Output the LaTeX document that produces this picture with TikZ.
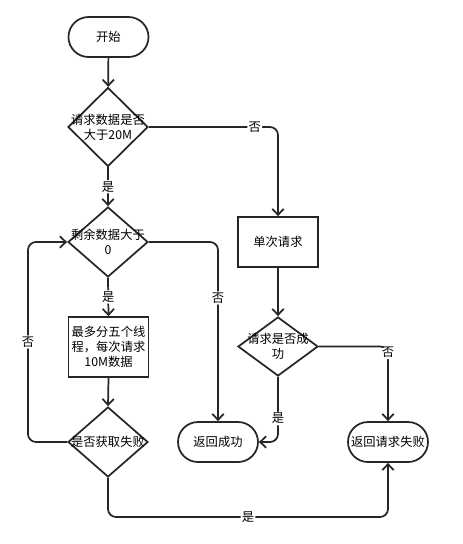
\documentclass[tikz,border=0pt]{standalone}
\usepackage{fontspec}
\setmainfont{Noto Sans CJK SC}
\usetikzlibrary{shapes.geometric,arrows.meta}
\definecolor{ln}{HTML}{262626}
\tikzset{
  px/.style={x=0.75pt,y=-0.75pt},
  base/.style={draw=ln,line width=1.3pt,font=\fontsize{9.2pt}{11pt}\selectfont,align=center,inner sep=0pt},
  term/.style={base,rectangle,rounded corners=15pt,minimum width=60pt,minimum height=30pt},
  proc/.style={base,rectangle,minimum width=60pt},
  dec/.style={base,diamond,minimum width=60pt},
  txt/.style={font=\fontsize{9.2pt}{11pt}\selectfont,align=center,inner sep=0pt},
  conn/.style={draw=ln,line width=1.3pt,rounded corners=6pt,-{Straight Barb[length=4.5pt,width=8.5pt,line width=1.3pt]}},
  lab/.style={fill=white,inner sep=1pt,font=\fontsize{9.2pt}{11pt}\selectfont}
}
\begin{document}
\begin{tikzpicture}[px]
\useasboundingbox (0,0) rectangle (463,544);
\node[term] (start) at (108.5,37) {开始};
\node[dec,minimum height=59.25pt] (d1) at (108,127) {};
\node[txt] (t1) at (108,127) {请求数据是否\\大于20M};
\node[dec,minimum height=52.5pt] (d2) at (108,242) {};
\node[txt] (t2) at (108,242) {剩余数据大于\\0};
\node[proc,minimum height=45pt] (box) at (108.5,347) {最多分五个线\\程，每次请求\\10M数据};
\node[dec,minimum height=52.5pt] (d4) at (108,442) {};
\node[txt] (t4) at (108,442) {是否获取失败};
\node[proc,minimum height=37.5pt] (single) at (278,242) {单次请求};
\node[dec,minimum height=44.25pt] (d3) at (278,346.5) {};
\node[txt] (t3) at (278,346.5) {请求是否成\\功};
\node[term] (ok) at (218,442) {返回成功};
\node[term] (fail) at (388,442) {返回请求失败};
\coordinate (lp) at (28,242);
\coordinate (b1) at (108,517);
\coordinate (b2) at (388,517);

\path[conn] (start) -- (d1);
\path[conn] (d1.east) -| node[lab,pos=0.41] {否} (single.north);
\path[conn] (d1.south) -- node[lab] {是} (d2.north);
\path[conn] (d2.east) -| node[lab,pos=0.656] {否} (ok.north);
\path[conn] (d2.south) -- node[lab] {是} (box.north);
\path[conn] (box.south) -- (d4.north);
\path[conn] (d4.west) -| node[lab,pos=0.75] {否} (lp) -- (d2.west);
\path[conn] (d4.south) -- (b1) -- node[lab] {是} (b2) -- (fail.south);
\path[conn] (single.south) -- (d3.north);
\path[conn] (d3.east) -| node[lab,pos=0.54] {否} (fail.north);
\path[conn] (d3.south) |- node[lab,pos=0.32] {是} (ok.east);
\end{tikzpicture}
\end{document}
